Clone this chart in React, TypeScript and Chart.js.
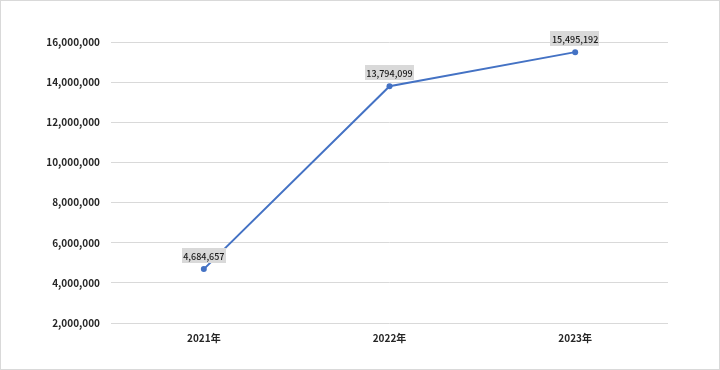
import React, { useEffect, useRef } from "react";
import { Chart, registerables } from "chart.js";

Chart.register(...registerables);

const categories = ["2021年", "2022年", "2023年"];
const values = [4684657, 13794099, 15495192];
const yMin = 2000000;
const yMax = 16000000;
const yStep = 2000000;

const FONT = '"Noto Sans CJK JP", "Noto Sans", sans-serif';
const fmt = (v: number) => v.toLocaleString("en-US");

export default function App() {
  const ref = useRef<HTMLCanvasElement | null>(null);

  useEffect(() => {
    document.body.style.margin = "0";
    const canvas = ref.current;
    if (!canvas) return;

    const bgBorder = {
      id: "bgBorder",
      beforeDraw(chart: any) {
        const { ctx, width, height } = chart;
        ctx.save();
        ctx.fillStyle = "#ffffff";
        ctx.fillRect(0, 0, width, height);
        ctx.strokeStyle = "#d9d9d9";
        ctx.lineWidth = 1;
        ctx.strokeRect(0.5, 0.5, width - 1, height - 1);
        ctx.restore();
      },
    };

    const dataLabels = {
      id: "dataLabels",
      afterDatasetsDraw(chart: any) {
        const { ctx } = chart;
        const meta = chart.getDatasetMeta(0);
        ctx.save();
        ctx.font = `500 9px ${FONT}`;
        ctx.textAlign = "center";
        ctx.textBaseline = "middle";
        meta.data.forEach((pt: any, i: number) => {
          const text = fmt(values[i]);
          const w = ctx.measureText(text).width + 3;
          const h = 15;
          const cx = pt.x;
          const cy = pt.y - 13.5;
          ctx.fillStyle = "#d9d9d9";
          ctx.fillRect(Math.round(cx - w / 2), Math.round(cy - h / 2), Math.round(w), h);
          ctx.fillStyle = "#1a1a1a";
          ctx.fillText(text, cx, cy + 0.5);
        });
        ctx.restore();
      },
    };

    const chart = new Chart(canvas, {
      type: "line",
      data: {
        labels: categories,
        datasets: [
          {
            data: values,
            borderColor: "#4472C4",
            backgroundColor: "#4472C4",
            borderWidth: 2,
            pointRadius: 3,
            pointHoverRadius: 3,
            pointBorderWidth: 0,
            pointBackgroundColor: "#4472C4",
            pointBorderColor: "#4472C4",
            tension: 0,
          },
        ],
      },
      options: {
        responsive: false,
        animation: false,
        devicePixelRatio: 1,
        layout: { padding: { left: 0, right: 52, top: 42, bottom: 0 } },
        plugins: {
          legend: { display: false },
          tooltip: { enabled: false },
        },
        scales: {
          x: {
            offset: true,
            grid: { display: false, drawTicks: false },
            border: { display: false },
            ticks: {
              color: "#262626",
              font: { family: FONT, size: 10, weight: "bold" },
              padding: 9,
            },
            afterFit(s: any) {
              s.height = 47;
            },
          },
          y: {
            min: yMin,
            max: yMax,
            grid: { color: "#d9d9d9", lineWidth: 1, drawTicks: false },
            border: { display: false },
            ticks: {
              stepSize: yStep,
              color: "#262626",
              font: { family: FONT, size: 10, weight: "bold" },
              padding: 11,
              callback: (v: any) => fmt(Number(v)),
            },
            afterFit(s: any) {
              s.width = 111;
            },
          },
        },
      },
      plugins: [bgBorder, dataLabels],
    });

    return () => chart.destroy();
  }, []);

  return (
    <div style={{ width: 720, height: 370 }}>
      <canvas ref={ref} width={720} height={370} style={{ display: "block" }} />
    </div>
  );
}
